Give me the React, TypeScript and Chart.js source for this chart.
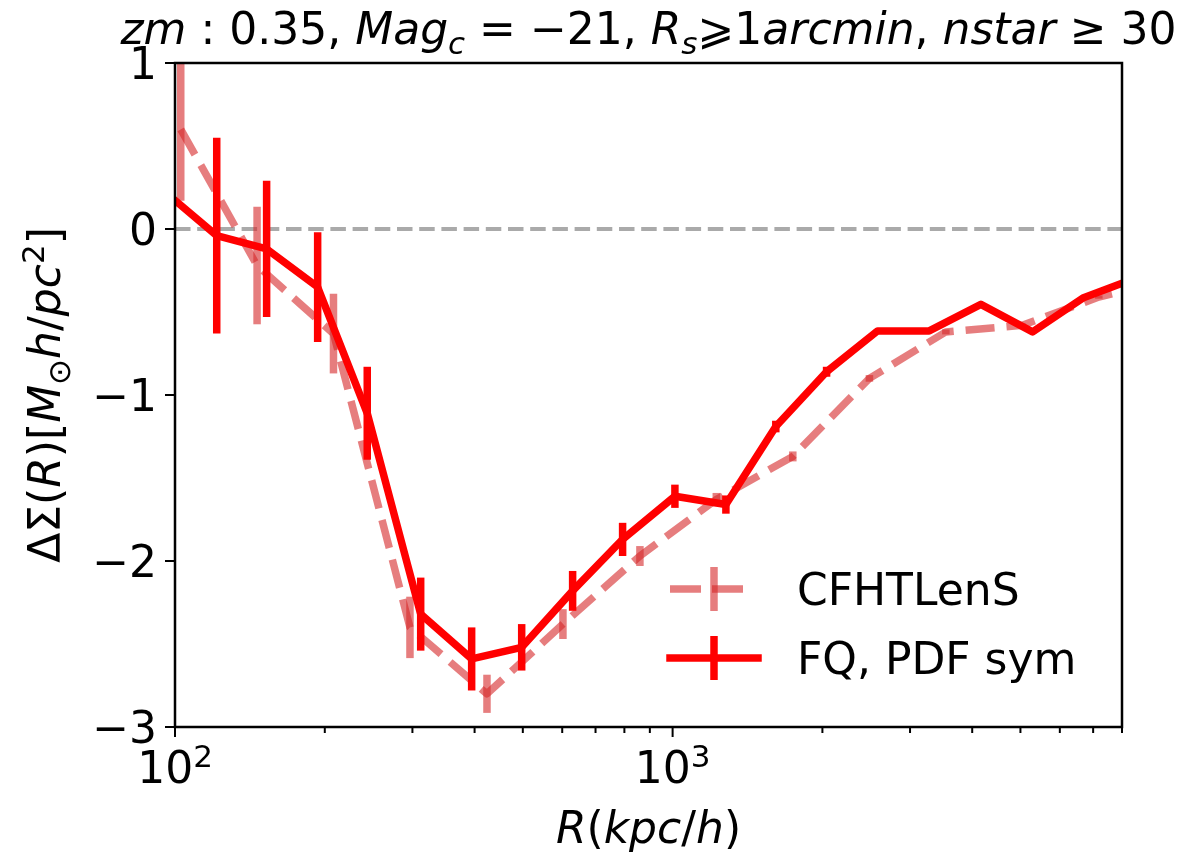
import React, { useEffect, useRef } from 'react';
import { Chart, registerables } from 'chart.js';

Chart.register(...registerables);

// ---- data ----
const fqR = [95.8, 121.3, 152.8, 193.5, 243.4, 311.7, 394.6, 497.4, 629.6, 793.4, 1010.7, 1279.6, 1612, 2039, 2582, 3278, 4164, 5289, 6674, 8450];
const fqVal = [0.22, -0.04, -0.12, -0.35, -1.11, -2.32, -2.59, -2.52, -2.18, -1.87, -1.61, -1.66, -1.19, -0.86, -0.614, -0.614, -0.454, -0.62, -0.416, -0.3];
const fqErr = [0.6, 0.59, 0.41, 0.33, 0.28, 0.22, 0.19, 0.14, 0.12, 0.1, 0.07, 0.055, 0.035, 0.03, 0.01, 0.01, 0.01, 0.01, 0.01, 0.01];

const cfhtR = [102.7, 146.2, 208.2, 296.6, 423.6, 602, 859.6, 1224, 1744, 2486, 3541, 5044, 7186, 10235];
const cfhtVal = [0.6, -0.22, -0.63, -2.4, -2.8, -2.38, -1.97, -1.63, -1.37, -0.9, -0.62, -0.58, -0.41, -0.3];
const cfhtErr = [0.43, 0.354, 0.24, 0.185, 0.115, 0.09, 0.06, 0.04, 0.03, 0.02, 0.015, 0.01, 0.01, 0.01];

const xMin = 100;
const xMax = 8000;
const yMin = -3;
const yMax = 1;
const yTicks = [1, 0, -1, -2, -3];
const yTickLabels = ['1', '0', '\u22121', '\u22122', '\u22123'];
const xMajor = [100, 1000];
const xMajorExp = ['2', '3'];
const xMinor = [200, 300, 400, 500, 600, 700, 800, 900, 2000, 3000, 4000, 5000, 6000, 7000, 8000];

const seriesNames = ['CFHTLenS', 'FQ, PDF sym'];

const FQ_COLOR = '#ff0000';
const CFHT_COLOR = 'rgba(214, 39, 40, 0.6)';
const LW = 7.5;
const DASH = [29, 12];

type Seg = { t: string; f: 'n' | 'i'; s?: 'sub' | 'sup' };

const FONT = '"DejaVu Sans", "Noto Sans", sans-serif';

function segFont(sg: Seg, size: number) {
  const sz = sg.s ? Math.round(size * 0.7) : size;
  return `${sg.f === 'i' ? 'italic ' : ''}${sz}px ${FONT}`;
}

function measureRich(ctx: CanvasRenderingContext2D, segs: Seg[], size: number) {
  let w = 0;
  for (const sg of segs) {
    ctx.font = segFont(sg, size);
    w += ctx.measureText(sg.t).width;
  }
  return w;
}

function drawRich(ctx: CanvasRenderingContext2D, segs: Seg[], x: number, baseline: number, size: number) {
  let cx = x;
  ctx.textAlign = 'left';
  ctx.textBaseline = 'alphabetic';
  for (const sg of segs) {
    ctx.font = segFont(sg, size);
    let dy = 0;
    if (sg.s === 'sub') dy = size * 0.22;
    if (sg.s === 'sup') dy = -size * 0.36;
    ctx.fillText(sg.t, cx, baseline + dy);
    cx += ctx.measureText(sg.t).width;
  }
}

const titleSegs: Seg[] = [
  { t: 'zm', f: 'i' },
  { t: ' : ', f: 'n' },
  { t: '0.35,', f: 'n' },
  { t: ' ', f: 'n' },
  { t: 'Mag', f: 'i' },
  { t: 'c', f: 'i', s: 'sub' },
  { t: ' = \u2212', f: 'n' },
  { t: '21,', f: 'n' },
  { t: ' ', f: 'n' },
  { t: 'R', f: 'i' },
  { t: 's', f: 'i', s: 'sub' },
  { t: '\u2A7E', f: 'n' },
  { t: '1', f: 'n' },
  { t: 'arcmin', f: 'i' },
  { t: ', ', f: 'n' },
  { t: 'nstar', f: 'i' },
  { t: ' \u2265 ', f: 'n' },
  { t: '30', f: 'n' },
];

const yLabelSegs: Seg[] = [
  { t: '\u0394\u03A3(', f: 'n' },
  { t: 'R', f: 'i' },
  { t: ')[', f: 'n' },
  { t: 'M', f: 'i' },
  { t: '\u2299', f: 'n', s: 'sub' },
  { t: 'h', f: 'i' },
  { t: '/', f: 'n' },
  { t: 'pc', f: 'i' },
  { t: '2', f: 'n', s: 'sup' },
  { t: ']', f: 'n' },
];

const xLabelSegs: Seg[] = [
  { t: 'R', f: 'i' },
  { t: '(', f: 'n' },
  { t: 'kpc', f: 'i' },
  { t: '/', f: 'n' },
  { t: 'h', f: 'i' },
  { t: ')', f: 'n' },
];

const errs: Record<number, number[]> = { 1: cfhtErr, 2: fqErr };
const vals: Record<number, number[]> = { 1: cfhtVal, 2: fqVal };

const decorPlugin = {
  id: 'decor',
  afterDatasetDraw(chart: any, args: any) {
    const e = errs[args.index];
    if (!e) return;
    const ctx: CanvasRenderingContext2D = chart.ctx;
    const ca = chart.chartArea;
    const ys = chart.scales.y;
    const v = vals[args.index];
    const color = args.index === 1 ? CFHT_COLOR : FQ_COLOR;
    ctx.save();
    ctx.beginPath();
    ctx.rect(ca.left, ca.top, ca.right - ca.left, ca.bottom - ca.top);
    ctx.clip();
    ctx.strokeStyle = color;
    ctx.lineWidth = LW;
    ctx.lineCap = 'butt';
    args.meta.data.forEach((pt: any, i: number) => {
      const y1 = ys.getPixelForValue(v[i] + e[i]);
      const y2 = ys.getPixelForValue(v[i] - e[i]);
      ctx.beginPath();
      ctx.moveTo(pt.x, y1);
      ctx.lineTo(pt.x, y2);
      ctx.stroke();
    });
    ctx.restore();
  },
  afterDraw(chart: any) {
    const ctx: CanvasRenderingContext2D = chart.ctx;
    const ca = chart.chartArea;
    const xs = chart.scales.x;
    const ys = chart.scales.y;
    ctx.save();
    // frame
    ctx.strokeStyle = '#000';
    ctx.lineWidth = 2.5;
    ctx.strokeRect(ca.left, ca.top, ca.right - ca.left, ca.bottom - ca.top);
    // y ticks
    ctx.lineWidth = 2;
    ctx.fillStyle = '#000';
    yTicks.forEach((t, i) => {
      const py = ys.getPixelForValue(t);
      ctx.beginPath();
      ctx.moveTo(ca.left, py);
      ctx.lineTo(ca.left - 10, py);
      ctx.stroke();
      ctx.font = `44px ${FONT}`;
      ctx.textAlign = 'right';
      ctx.textBaseline = 'alphabetic';
      ctx.fillText(yTickLabels[i], ca.left - 18, py + 16);
    });
    // x ticks
    xMinor.forEach((t) => {
      const px = xs.getPixelForValue(t);
      ctx.beginPath();
      ctx.moveTo(px, ca.bottom);
      ctx.lineTo(px, ca.bottom + 6);
      ctx.stroke();
    });
    xMajor.forEach((t, i) => {
      const px = xs.getPixelForValue(t);
      ctx.beginPath();
      ctx.moveTo(px, ca.bottom);
      ctx.lineTo(px, ca.bottom + 10);
      ctx.stroke();
      const segs: Seg[] = [
        { t: '10', f: 'n' },
        { t: xMajorExp[i], f: 'n', s: 'sup' },
      ];
      const w = measureRich(ctx, segs, 44);
      drawRich(ctx, segs, px - w / 2, 783, 44);
    });
    // title
    {
      const w = measureRich(ctx, titleSegs, 44);
      const cx = (ca.left + ca.right) / 2;
      drawRich(ctx, titleSegs, cx - w / 2, 44, 44);
    }
    // x label
    {
      const w = measureRich(ctx, xLabelSegs, 44);
      const cx = (ca.left + ca.right) / 2;
      drawRich(ctx, xLabelSegs, cx - w / 2, 843, 44);
    }
    // y label
    {
      const w = measureRich(ctx, yLabelSegs, 44);
      const cy = (ca.top + ca.bottom) / 2;
      ctx.save();
      ctx.translate(60, cy);
      ctx.rotate(-Math.PI / 2);
      drawRich(ctx, yLabelSegs, -w / 2, 0, 44);
      ctx.restore();
    }
    // legend
    {
      const rows = [
        { y: 589, color: CFHT_COLOR, dash: [31, 11], x0: 670, x1: 746, cap: 'butt' as CanvasLineCap },
        { y: 658, color: FQ_COLOR, dash: [] as number[], x0: 670, x1: 758, cap: 'square' as CanvasLineCap },
      ];
      rows.forEach((r, i) => {
        ctx.strokeStyle = r.color;
        ctx.lineWidth = LW;
        ctx.lineCap = r.cap;
        ctx.setLineDash(r.dash);
        ctx.beginPath();
        ctx.moveTo(r.x0, r.y);
        ctx.lineTo(r.x1, r.y);
        ctx.stroke();
        ctx.setLineDash([]);
        ctx.lineCap = 'butt';
        ctx.beginPath();
        ctx.moveTo(714, r.y - 22);
        ctx.lineTo(714, r.y + 22);
        ctx.stroke();
        ctx.fillStyle = '#000';
        ctx.font = `44px ${FONT}`;
        ctx.textAlign = 'left';
        ctx.textBaseline = 'alphabetic';
        ctx.fillText(seriesNames[i], 797, r.y + 16);
      });
    }
    ctx.restore();
  },
};

export default function App() {
  const ref = useRef<HTMLCanvasElement>(null);
  useEffect(() => {
    document.body.style.margin = '0';
    const canvas = ref.current!;
    const chart = new Chart(canvas, {
      type: 'line',
      data: {
        datasets: [
          {
            label: 'zero',
            data: [
              { x: xMin, y: 0 },
              { x: xMax, y: 0 },
            ],
            borderColor: '#aaaaaa',
            borderWidth: 4,
            borderDash: [15.5, 6.7],
            pointRadius: 0,
            order: 3,
            clip: 0,
          } as any,
          {
            label: seriesNames[0],
            data: cfhtR.map((x, i) => ({ x, y: cfhtVal[i] })),
            borderColor: CFHT_COLOR,
            borderWidth: LW,
            borderDash: DASH,
            borderCapStyle: 'butt',
            borderJoinStyle: 'round',
            pointRadius: 0,
            order: 2,
            clip: 0,
          } as any,
          {
            label: seriesNames[1],
            data: fqR.map((x, i) => ({ x, y: fqVal[i] })),
            borderColor: FQ_COLOR,
            borderWidth: LW,
            borderCapStyle: 'square',
            borderJoinStyle: 'round',
            pointRadius: 0,
            order: 1,
            clip: 0,
          } as any,
        ],
      },
      options: {
        responsive: false,
        animation: false,
        devicePixelRatio: 1,
        layout: { padding: { left: 175, top: 63, right: 67, bottom: 127 } },
        scales: {
          x: { type: 'logarithmic', min: xMin, max: xMax, display: false },
          y: { type: 'linear', min: yMin, max: yMax, display: false },
        },
        plugins: {
          legend: { display: false },
          tooltip: { enabled: false },
          title: { display: false },
        },
        elements: { line: { tension: 0 } },
      },
      plugins: [decorPlugin],
    });
    return () => chart.destroy();
  }, []);
  return (
    <div style={{ width: 1189, height: 854, background: '#fff' }}>
      <canvas ref={ref} width={1189} height={854} />
    </div>
  );
}
